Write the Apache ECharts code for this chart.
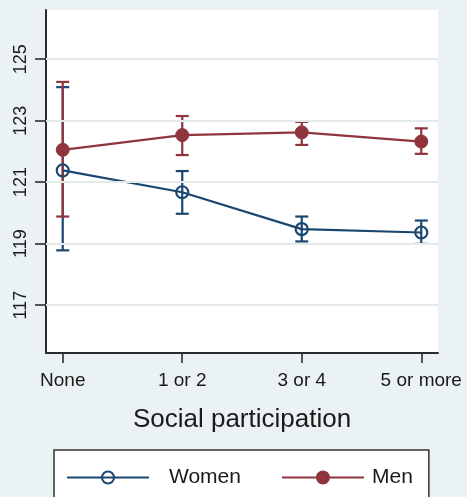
<!DOCTYPE html>
<html>
<head>
<meta charset="utf-8">
<script src="https://cdn.jsdelivr.net/npm/echarts@6/dist/echarts.min.js"></script>
<style>
  html, body { margin: 0; padding: 0; background: #eaf2f3; }
  #chart { width: 467px; height: 497px; }
</style>
</head>
<body>
<div id="chart"></div>
<script>
// Social participation groups along the x axis
const categories = ['None', '1 or 2', '3 or 4', '5 or more'];

// Mean outcome with 95% confidence limits, by group
const womenMean = [121.38, 120.67, 119.47, 119.36];
const womenLow  = [118.78, 119.97, 119.07, 118.99];
const womenHigh = [124.09, 121.36, 119.88, 119.75];

const menMean = [122.05, 122.53, 122.62, 122.32];
const menLow  = [119.88, 121.88, 122.21, 121.92];
const menHigh = [124.26, 123.15, 122.96, 122.75];

// Y axis tick values
const yTicks = [117, 119, 121, 123, 125];

const NAVY = '#1a476f';
const MAROON = '#90353b';
const TEXT = '#1a1a1a';
const FONT = 'Liberation Sans, Arial, sans-serif';

const idx = categories.map((_, i) => i);

function pointData(values) {
  return values.map((v, i) => [i, v]);
}
function barData(low, high) {
  return low.map((l, i) => [i, l, high[i]]);
}

function errorBarSeries(name, color, low, high) {
  return {
    type: 'custom',
    name: name + ' CI',
    silent: true,
    z: 2,
    encode: { x: 0, y: [1, 2] },
    data: barData(low, high),
    renderItem: function (params, api) {
      const lo = api.coord([api.value(0), api.value(1)]);
      const hi = api.coord([api.value(0), api.value(2)]);
      const half = 6.5;
      const style = { stroke: color, lineWidth: 2.2 };
      return {
        type: 'group',
        children: [
          { type: 'line', shape: { x1: lo[0], y1: lo[1], x2: hi[0], y2: hi[1] }, style: style },
          { type: 'line', shape: { x1: lo[0] - half, y1: lo[1], x2: lo[0] + half, y2: lo[1] }, style: style },
          { type: 'line', shape: { x1: hi[0] - half, y1: hi[1], x2: hi[0] + half, y2: hi[1] }, style: style }
        ]
      };
    }
  };
}

const chart = echarts.init(document.getElementById('chart'), null, { renderer: 'canvas' });

chart.setOption({
  backgroundColor: '#eaf2f3',
  animation: false,
  textStyle: { fontFamily: FONT, color: TEXT },
  grid: {
    left: 46, right: 29, top: 10, bottom: 144,
    show: true,
    backgroundColor: '#ffffff',
    borderWidth: 0
  },
  xAxis: {
    type: 'value',
    min: -0.14,
    max: 3.14,
    name: 'Social participation',
    nameLocation: 'middle',
    nameGap: 54,
    nameTextStyle: { fontSize: 26, color: TEXT, fontFamily: FONT },
    axisLine: { show: true, onZero: false, lineStyle: { color: '#2b2b2b', width: 2 } },
    axisTick: { show: true, length: 10, customValues: idx, lineStyle: { color: '#2b2b2b', width: 1.6 } },
    axisLabel: {
      customValues: idx,
      margin: 18,
      fontSize: 19,
      color: TEXT,
      fontFamily: FONT,
      formatter: v => categories[Math.round(v)]
    },
    splitLine: { show: false }
  },
  yAxis: {
    type: 'value',
    min: 115.44,
    max: 126.6,
    axisLine: { show: true, onZero: false, lineStyle: { color: '#2b2b2b', width: 2 } },
    axisTick: { show: true, length: 11, customValues: yTicks, lineStyle: { color: '#2b2b2b', width: 1.6 } },
    axisLabel: {
      customValues: yTicks,
      rotate: 90,
      margin: 16,
      fontSize: 18,
      color: TEXT,
      fontFamily: FONT
    },
    splitLine: { show: false }
  },
  legend: {
    data: [
      { name: 'Women', textStyle: { padding: [0, 0, 0, 15] } },
      { name: 'Men', textStyle: { padding: [0, 0, 0, 3] } }
    ],
    left: 54,
    top: 450,
    orient: 'horizontal',
    itemWidth: 82,
    itemHeight: 15,
    itemGap: 40,
    padding: [17, 16, 40, 12],
    backgroundColor: '#ffffff',
    borderColor: '#333333',
    borderWidth: 1.5,
    borderRadius: 0,
    textStyle: { fontSize: 21, color: TEXT, fontFamily: FONT }
  },
  series: [
    // reference lines at each labelled y value
    {
      type: 'line',
      name: 'grid',
      data: [],
      silent: true,
      z: 1,
      markLine: {
        silent: true,
        symbol: 'none',
        label: { show: false },
        lineStyle: { color: '#e2eaea', width: 1.8, type: 'solid' },
        data: yTicks.map(v => ({ yAxis: v }))
      }
    },
    errorBarSeries('Women', NAVY, womenLow, womenHigh),
    errorBarSeries('Men', MAROON, menLow, menHigh),
    {
      type: 'line',
      name: 'Women',
      z: 3,
      data: pointData(womenMean),
      symbol: 'circle',
      symbolSize: 12,
      lineStyle: { color: NAVY, width: 2.2 },
      itemStyle: { color: 'rgba(255,255,255,0)', borderColor: NAVY, borderWidth: 2.2 }
    },
    {
      type: 'line',
      name: 'Men',
      z: 3,
      data: pointData(menMean),
      symbol: 'circle',
      symbolSize: 13,
      lineStyle: { color: MAROON, width: 2.2 },
      itemStyle: { color: MAROON, borderColor: MAROON, borderWidth: 1 }
    }
  ]
});
</script>
</body>
</html>
